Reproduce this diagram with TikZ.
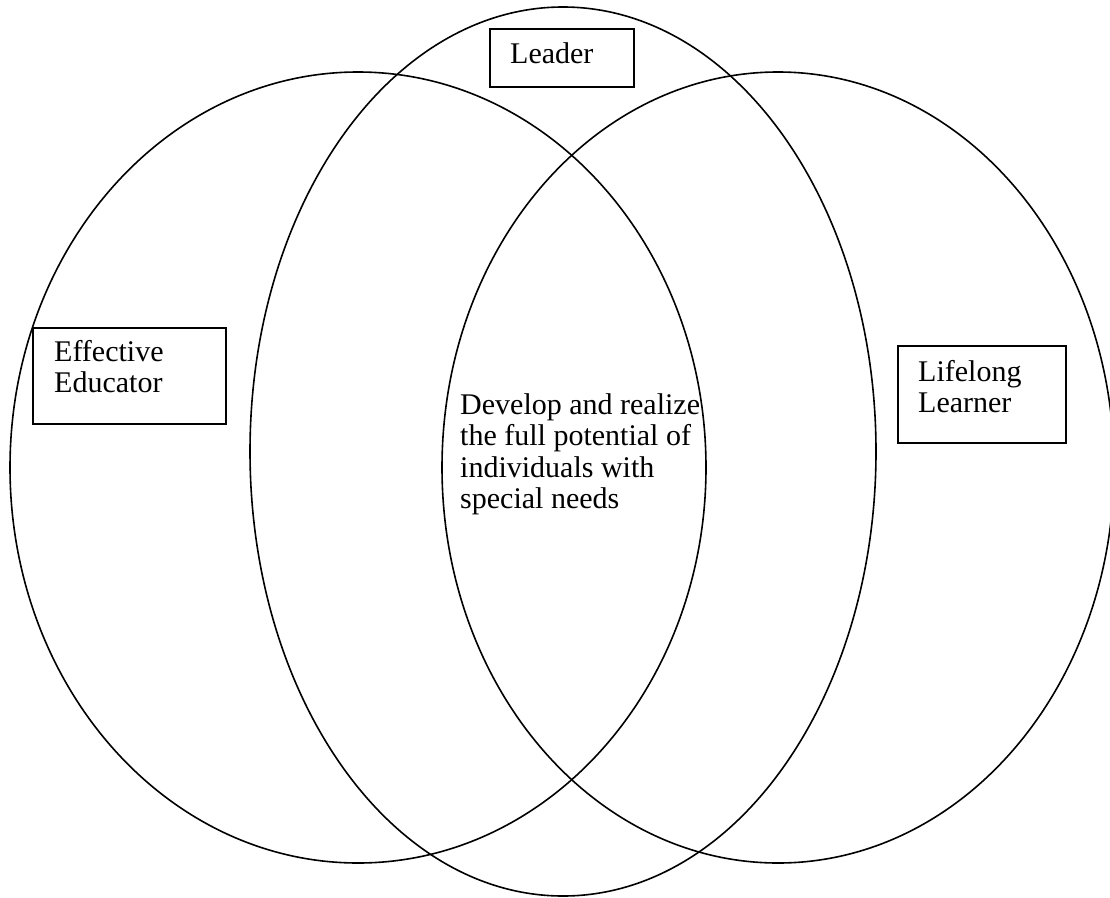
\documentclass[tikz,border=0pt]{standalone}
\usepackage{fontspec}
\setmainfont{Liberation Serif}
\usetikzlibrary{shapes.geometric}
\tikzset{
  ring/.style={draw=black, line width=1.6pt, ellipse, inner sep=0pt},
  labelbox/.style={draw=black, line width=1.8pt, rectangle, inner sep=0pt},
  labeltext/.style={inner sep=0pt, align=left, anchor=base west,
    font=\fontsize{30}{31.5}\selectfont},
}
\begin{document}
\begin{tikzpicture}[x=1pt,y=-1pt]
\useasboundingbox (0,0) rectangle (1110,897);
% circles
\node[ring, minimum width=696pt, minimum height=791pt] (edu) at (358,467.5) {};
\node[ring, minimum width=626pt, minimum height=889pt] (lead) at (563,451.5) {};
\node[ring, minimum width=672pt, minimum height=791pt] (learn) at (778,467.5) {};
% boxes
\node[labelbox, minimum width=144pt, minimum height=58pt] (leadbox) at (562,58) {};
\node[labelbox, minimum width=193pt, minimum height=96pt] (edubox) at (129.5,376) {};
\node[labelbox, minimum width=168pt, minimum height=97pt] (learnbox) at (982,394.5) {};
% texts (anchor = baseline of the last line)
\node[labeltext] (leadtxt) at (510,63) {Leader};
\node[labeltext] (edutxt) at (54,392.5) {Effective\\Educator};
\node[labeltext] (learntxt) at (918,412.5) {Lifelong\\Learner};
\node[labeltext] (goal) at (460,508.5) {Develop and realize\\the full potential of\\individuals with\\special needs};
\end{tikzpicture}
\end{document}
